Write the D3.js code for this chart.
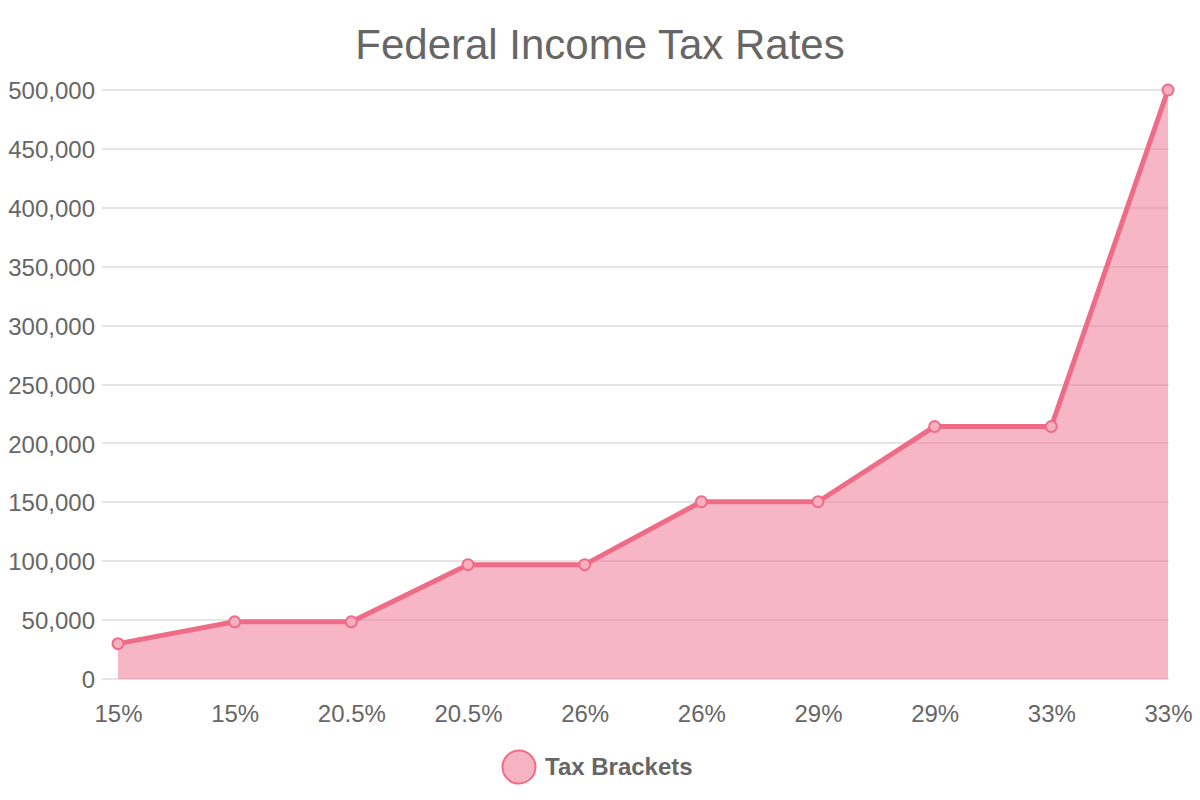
<!DOCTYPE html>
<html><head><meta charset="utf-8">
<script src="https://cdn.jsdelivr.net/npm/d3@7"></script>
<style>body{margin:0;background:#fff;} svg{display:block;font-family:"Liberation Sans",Arial,sans-serif;}</style>
</head><body>
<svg id="c" width="1200" height="800"></svg>
<script>
const categories = ["15%","15%","20.5%","20.5%","26%","26%","29%","29%","33%","33%"];
const values = [30000,48535,48535,97069,97069,150473,150473,214368,214368,500000];
const yTicks = [0,50000,100000,150000,200000,250000,300000,350000,400000,450000,500000];
const seriesName = "Tax Brackets";
const titleText = "Federal Income Tax Rates";

(function(){
const svg = d3.select("#c");
const pLeft = 118, pRight = 1168, pTop = 90, pBottom = 679;
const x = d3.scalePoint().domain(d3.range(categories.length)).range([pLeft, pRight]);
const y = d3.scaleLinear().domain([0, 500000]).range([pBottom, pTop]);
const lineColor = "rgb(238,108,136)";
const fillColor = "rgba(240,110,140,0.5)";
const textColor = "#666";
const ff = "Liberation Sans, Arial, sans-serif";

svg.append("text").attr("x", 600).attr("y", 59).attr("text-anchor","middle")
  .attr("font-size", 42).attr("fill", textColor).attr("font-family", ff).text(titleText);

// grid
svg.append("g").selectAll("line").data(yTicks).enter().append("line")
  .attr("x1", 102).attr("x2", pRight + 1)
  .attr("y1", d => Math.round(y(d))).attr("y2", d => Math.round(y(d)))
  .attr("stroke", "rgba(0,0,0,0.1)").attr("stroke-width", 1.5).attr("shape-rendering","crispEdges");

// y axis labels
const yAxis = d3.axisLeft(y).tickValues(yTicks).tickSize(0).tickPadding(0).tickFormat(d3.format(","));
const ya = svg.append("g").attr("transform", `translate(95,0)`).call(yAxis);
ya.select(".domain").remove();
ya.selectAll("text").attr("font-size", 24).attr("fill", textColor).attr("font-family", ff).attr("dy","0.36em");

// x axis labels
const xAxis = d3.axisBottom(x).tickSize(0).tickPadding(0).tickFormat(i => categories[i]);
const xa = svg.append("g").attr("transform", `translate(0,${pBottom+43})`).call(xAxis);
xa.select(".domain").remove();
xa.selectAll("text").attr("font-size", 24).attr("fill", textColor).attr("font-family", ff).attr("dy","0");

// area & line
svg.append("path").datum(values)
  .attr("d", d3.area().x((d,i)=>x(i)).y0(y(0)).y1(d=>y(d)))
  .attr("fill", fillColor);
svg.append("path").datum(values)
  .attr("d", d3.line().x((d,i)=>x(i)).y(d=>y(d)))
  .attr("fill", "none").attr("stroke", lineColor).attr("stroke-width", 5).attr("stroke-linejoin","round");
svg.selectAll("circle.pt").data(values).enter().append("circle").attr("class","pt")
  .attr("cx",(d,i)=>x(i)).attr("cy",d=>y(d)).attr("r",5.5)
  .attr("fill","rgba(245,175,192,1)").attr("stroke", lineColor).attr("stroke-width",2);

// legend
svg.append("circle").attr("cx", 519).attr("cy", 767).attr("r", 16.5)
  .attr("fill", "rgb(246,180,195)").attr("stroke", lineColor).attr("stroke-width", 2);
svg.append("text").attr("x", 545).attr("y", 775).attr("font-size", 24).attr("font-weight","bold")
  .attr("fill", textColor).attr("font-family", ff).text(seriesName);
})();
</script>
</body></html>
